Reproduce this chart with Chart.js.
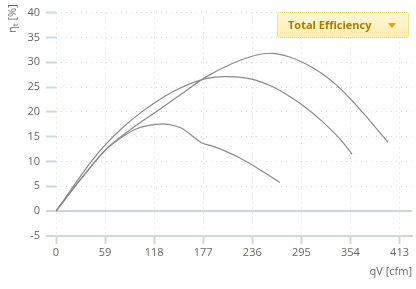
<!DOCTYPE html>
<html>
<head>
<meta charset="utf-8">
<script src="https://cdn.jsdelivr.net/npm/chart.js@4.4.0/dist/chart.umd.min.js"></script>
<style>
  html, body { margin: 0; padding: 0; background: #fff; }
  #wrap { position: relative; width: 416px; height: 289px; }
  #legendBox {
    position: absolute; left: 277px; top: 12px; width: 120px; height: 24px;
    border: 1px dotted #f0cc50; border-radius: 3px;
    background: linear-gradient(#fff8d8, #fdedb0);
    font-family: "Open Sans", "DejaVu Sans", sans-serif; font-size: 11px; font-weight: bold;
    color: #b07a00; line-height: 24px; padding-left: 10px; box-sizing: content-box;
  }
  #legendBox .arrow {
    position: absolute; right: 12px; top: 10px; width: 0; height: 0;
    border-left: 4px solid transparent; border-right: 4px solid transparent; border-top: 5px solid #f0a010;
  }
</style>
</head>
<body>
<div id="wrap">
  <canvas id="c" width="416" height="289"></canvas>
  <div id="legendBox">Total Efficiency<span class="arrow"></span></div>
</div>
<script>
const xTickValues = [0, 59, 118, 177, 236, 295, 354, 413];
const yTickValues = [-5, 0, 5, 10, 15, 20, 25, 30, 35, 40];
const xTitle = "qV [cfm]";
const yTitleMain = "η";
const yTitleSub = "t";
const yTitleRest = " [%]";
const legendLabel = "Total Efficiency";

const qvA  = [0, 30, 60, 90, 120, 150, 180, 210, 240, 260, 280, 300, 320, 340, 360, 380, 399];
const etaA = [0, 6.5, 12.4, 16.5, 20.0, 23.5, 27.0, 29.6, 31.4, 31.8, 31.1, 29.7, 27.7, 25.0, 21.5, 17.7, 13.9];

const qvB  = [0, 20, 40, 60, 80, 100, 120, 140, 160, 180, 200, 220, 240, 260, 280, 300, 320, 340, 356];
const etaB = [0, 4.8, 9.5, 13.5, 16.8, 19.6, 22.0, 24.0, 25.6, 26.7, 27.1, 27.0, 26.4, 25.1, 23.2, 20.9, 18.1, 14.8, 11.5];

const qvC  = [0, 30, 60, 80, 100, 120, 135, 150, 162, 175, 190, 205, 220, 240, 269];
const etaC = [0, 6.5, 12.4, 15.0, 16.8, 17.5, 17.5, 16.8, 15.4, 13.8, 13.0, 12.0, 10.8, 8.9, 5.8];

const toPts = (xs, ys) => xs.map((x, i) => ({x: x, y: ys[i]}));
const lineColor = '#8a8a8a';
const axisBlue = '#c9d8e8';
const gridGray = '#d8d8d8';
const labelGray = '#666666';
const fontFam = '"Open Sans", "DejaVu Sans", sans-serif';

function ds(xs, ys) {
  return {
    data: toPts(xs, ys), borderColor: lineColor, borderWidth: 1.2,
    pointRadius: 0, tension: 0.35, fill: false
  };
}

const titlesPlugin = {
  id: 'titles',
  afterDraw(chart) {
    const ctx = chart.ctx;
    const area = chart.chartArea;
    ctx.save();
    ctx.fillStyle = labelGray;
    ctx.font = '11px ' + fontFam;
    ctx.textAlign = 'right';
    ctx.textBaseline = 'middle';
    ctx.fillText(xTitle, area.right, 272);
    ctx.translate(13, 33);
    ctx.rotate(-Math.PI / 2);
    ctx.textAlign = 'left';
    ctx.textBaseline = 'middle';
    ctx.font = '11px ' + fontFam;
    ctx.fillText(yTitleMain, 0, 0);
    let w = ctx.measureText(yTitleMain).width;
    ctx.font = '8px ' + fontFam;
    ctx.fillText(yTitleSub, w, 3);
    w += ctx.measureText(yTitleSub).width;
    ctx.font = '11px ' + fontFam;
    ctx.fillText(yTitleRest, w, 0);
    ctx.restore();
  }
};

new Chart(document.getElementById('c'), {
  type: 'line',
  data: { datasets: [ds(qvA, etaA), ds(qvB, etaB), ds(qvC, etaC)] },
  options: {
    responsive: false, animation: false,
    layout: { padding: { top: 12, right: 4, left: 0, bottom: 0 } },
    plugins: { legend: { display: false }, tooltip: { enabled: false } },
    scales: {
      x: {
        type: 'linear', min: 0, max: 428,
        afterBuildTicks: s => { s.ticks = xTickValues.map(v => ({value: v})); },
        afterFit: s => { s.height = 53; },
        ticks: { color: labelGray, font: { size: 11, family: fontFam }, padding: 2, maxRotation: 0, autoSkip: false },
        grid: { color: gridGray, lineWidth: 1, tickLength: 8, tickColor: axisBlue, tickWidth: 2, tickBorderDash: [] },
        border: { display: true, color: axisBlue, width: 2, dash: [1, 4] }
      },
      y: {
        type: 'linear', min: -5, max: 40,
        afterBuildTicks: s => { s.ticks = yTickValues.map(v => ({value: v})); },
        afterFit: s => { s.width = 56; },
        ticks: { color: labelGray, font: { size: 11, family: fontFam }, padding: 6 },
        grid: {
          color: c => (c.tick && (c.tick.value === 0 || c.tick.value === -5)) ? axisBlue : gridGray,
          lineWidth: c => (c.tick && (c.tick.value === 0 || c.tick.value === -5)) ? 2 : 1,
          tickLength: 10, tickColor: axisBlue, tickWidth: 2, tickBorderDash: []
        },
        border: {
          display: false,
          dash: c => (c.tick && (c.tick.value === 0 || c.tick.value === -5)) ? [] : [1, 4]
        }
      }
    }
  },
  plugins: [titlesPlugin]
});
</script>
</body>
</html>
